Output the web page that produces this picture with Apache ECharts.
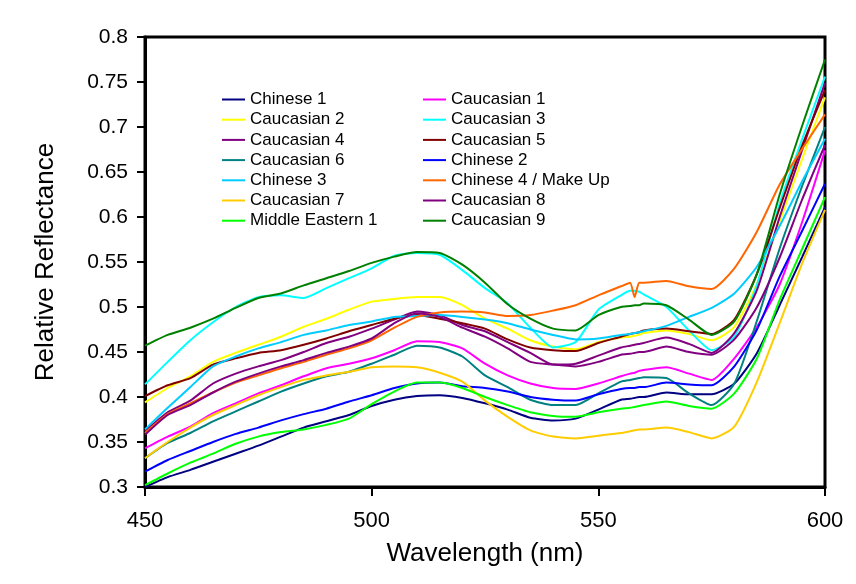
<!DOCTYPE html>
<html>
<head>
<meta charset="utf-8">
<script src="https://cdn.jsdelivr.net/npm/echarts@6/dist/echarts.min.js"></script>
<style>
  html, body { margin: 0; padding: 0; background: #fff; }
  #chart { width: 856px; height: 584px; }
</style>
</head>
<body>
<div id="chart"></div>
<script>
// wavelengths (nm)
const wavelengths = [450, 455, 460, 465, 470, 475, 480, 485, 490, 495, 500, 505, 510, 515, 520, 525, 530, 535, 540, 545, 550, 555, 557, 558, 559, 560, 565, 570, 575, 580, 585, 590, 595, 600];

const chinese1 = [0.300, 0.311, 0.319, 0.328, 0.337, 0.346, 0.356, 0.366, 0.373, 0.380, 0.390, 0.397, 0.401, 0.402, 0.399, 0.393, 0.386, 0.377, 0.374, 0.376, 0.386, 0.397, 0.398, 0.399, 0.400, 0.400, 0.405, 0.403, 0.403, 0.415, 0.449, 0.502, 0.556, 0.611];
const caucasian1 = [0.343, 0.356, 0.367, 0.382, 0.393, 0.404, 0.413, 0.423, 0.432, 0.437, 0.443, 0.452, 0.462, 0.461, 0.454, 0.437, 0.424, 0.415, 0.410, 0.409, 0.415, 0.423, 0.426, 0.427, 0.429, 0.430, 0.433, 0.426, 0.419, 0.443, 0.478, 0.525, 0.595, 0.674];
const caucasian2 = [0.394, 0.410, 0.423, 0.439, 0.449, 0.458, 0.467, 0.478, 0.487, 0.497, 0.506, 0.509, 0.511, 0.511, 0.502, 0.487, 0.476, 0.463, 0.456, 0.453, 0.461, 0.466, 0.467, 0.468, 0.469, 0.471, 0.474, 0.470, 0.463, 0.478, 0.526, 0.595, 0.665, 0.733];
const caucasian3 = [0.414, 0.439, 0.463, 0.483, 0.500, 0.511, 0.513, 0.510, 0.521, 0.532, 0.543, 0.557, 0.560, 0.558, 0.541, 0.521, 0.504, 0.477, 0.455, 0.461, 0.497, 0.513, 0.518, 0.518, 0.517, 0.514, 0.500, 0.474, 0.452, 0.467, 0.525, 0.615, 0.687, 0.756];
const caucasian4 = [0.362, 0.383, 0.396, 0.415, 0.426, 0.434, 0.441, 0.450, 0.460, 0.467, 0.476, 0.486, 0.495, 0.491, 0.480, 0.473, 0.461, 0.449, 0.436, 0.437, 0.446, 0.455, 0.457, 0.458, 0.459, 0.460, 0.466, 0.459, 0.449, 0.471, 0.519, 0.600, 0.675, 0.749];
const caucasian5 = [0.401, 0.413, 0.421, 0.436, 0.443, 0.449, 0.452, 0.458, 0.465, 0.473, 0.480, 0.487, 0.491, 0.487, 0.482, 0.476, 0.464, 0.455, 0.452, 0.451, 0.460, 0.467, 0.470, 0.471, 0.472, 0.474, 0.476, 0.473, 0.470, 0.486, 0.537, 0.610, 0.680, 0.741];
const caucasian6 = [0.332, 0.349, 0.360, 0.373, 0.384, 0.395, 0.406, 0.415, 0.423, 0.428, 0.437, 0.447, 0.457, 0.455, 0.445, 0.424, 0.411, 0.397, 0.391, 0.391, 0.404, 0.417, 0.419, 0.420, 0.421, 0.422, 0.421, 0.404, 0.391, 0.415, 0.485, 0.565, 0.635, 0.700];
const chinese2 = [0.317, 0.330, 0.340, 0.350, 0.359, 0.366, 0.374, 0.381, 0.387, 0.395, 0.402, 0.410, 0.415, 0.416, 0.412, 0.410, 0.406, 0.400, 0.397, 0.396, 0.403, 0.409, 0.410, 0.410, 0.411, 0.411, 0.416, 0.414, 0.413, 0.434, 0.475, 0.534, 0.585, 0.637];
const chinese3 = [0.364, 0.388, 0.411, 0.434, 0.445, 0.454, 0.461, 0.469, 0.474, 0.480, 0.484, 0.489, 0.490, 0.491, 0.489, 0.486, 0.482, 0.475, 0.469, 0.464, 0.465, 0.469, 0.470, 0.471, 0.472, 0.473, 0.479, 0.489, 0.499, 0.515, 0.545, 0.590, 0.640, 0.687];
const chinese4 = [0.360, 0.381, 0.393, 0.405, 0.416, 0.424, 0.432, 0.439, 0.447, 0.454, 0.463, 0.477, 0.489, 0.494, 0.495, 0.494, 0.490, 0.491, 0.496, 0.502, 0.513, 0.523, 0.527, 0.511, 0.527, 0.527, 0.529, 0.523, 0.520, 0.543, 0.584, 0.636, 0.676, 0.714];
const caucasian7 = [0.332, 0.350, 0.366, 0.380, 0.391, 0.402, 0.411, 0.419, 0.424, 0.428, 0.433, 0.434, 0.433, 0.427, 0.417, 0.396, 0.378, 0.363, 0.356, 0.354, 0.357, 0.360, 0.362, 0.363, 0.364, 0.364, 0.366, 0.361, 0.354, 0.367, 0.417, 0.482, 0.549, 0.608];
const caucasian8 = [0.358, 0.380, 0.391, 0.405, 0.417, 0.426, 0.434, 0.441, 0.449, 0.456, 0.465, 0.482, 0.493, 0.489, 0.477, 0.467, 0.454, 0.439, 0.436, 0.434, 0.439, 0.447, 0.448, 0.449, 0.450, 0.450, 0.456, 0.450, 0.447, 0.464, 0.500, 0.555, 0.620, 0.680];
const middleEastern1 = [0.302, 0.315, 0.327, 0.337, 0.348, 0.356, 0.361, 0.364, 0.369, 0.376, 0.392, 0.406, 0.416, 0.416, 0.410, 0.400, 0.391, 0.383, 0.379, 0.378, 0.383, 0.387, 0.388, 0.389, 0.390, 0.391, 0.395, 0.390, 0.387, 0.404, 0.443, 0.508, 0.565, 0.622];
const caucasian9 = [0.457, 0.469, 0.477, 0.487, 0.499, 0.510, 0.515, 0.524, 0.532, 0.540, 0.549, 0.556, 0.561, 0.560, 0.547, 0.527, 0.503, 0.487, 0.476, 0.474, 0.491, 0.500, 0.501, 0.502, 0.502, 0.504, 0.502, 0.486, 0.469, 0.484, 0.537, 0.625, 0.702, 0.775];

const names = ['Chinese 1', 'Caucasian 1', 'Caucasian 2', 'Caucasian 3', 'Caucasian 4', 'Caucasian 5', 'Caucasian 6', 'Chinese 2', 'Chinese 3', 'Chinese 4 / Make Up', 'Caucasian 7', 'Caucasian 8', 'Middle Eastern 1', 'Caucasian 9'];
const values = [chinese1, caucasian1, caucasian2, caucasian3, caucasian4, caucasian5, caucasian6, chinese2, chinese3, chinese4, caucasian7, caucasian8, middleEastern1, caucasian9];
const colors = ['#000080', '#FF00FF', '#FFFF00', '#00FFFF', '#800080', '#800000', '#008080', '#0000FF', '#00CCFF', '#FF6600', '#FFCC00', '#800080', '#00FF00', '#008000'];

const fontFamily = 'Liberation Sans, Arial, sans-serif';

const myChart = echarts.init(document.getElementById('chart'));

const series = names.map((name, i) => ({
  name: name,
  type: 'line',
  symbol: 'none',
  smooth: 0.2,
  lineStyle: { width: 2, color: colors[i] },
  itemStyle: { color: colors[i] },
  data: wavelengths.map((w, j) => [w, values[i][j]])
}));

// legend reads row by row, two columns
const leftCol = names.filter((n, i) => i % 2 === 0);
const rightCol = names.filter((n, i) => i % 2 === 1);

const legendBase = {
  orient: 'vertical',
  top: 86,
  icon: 'rect',
  itemWidth: 23,
  itemHeight: 2,
  itemGap: 3.2,
  textStyle: { color: '#000', fontSize: 17, fontFamily: fontFamily }
};

const option = {
  animation: false,
  backgroundColor: '#fff',
  grid: {
    left: 145, top: 37, right: 31, bottom: 97,
    show: true, borderColor: '#000', borderWidth: 3,
    backgroundColor: 'transparent'
  },
  legend: [
    Object.assign({}, legendBase, { left: 217, data: leftCol }),
    Object.assign({}, legendBase, { left: 418, data: rightCol })
  ],
  xAxis: {
    type: 'value',
    min: 450, max: 600, interval: 50,
    name: 'Wavelength (nm)',
    nameLocation: 'middle',
    nameGap: 54,
    nameTextStyle: { color: '#000', fontSize: 26, fontFamily: fontFamily },
    axisLine: { lineStyle: { color: '#000', width: 3 } },
    axisTick: { show: true, inside: false, length: 9, lineStyle: { color: '#000', width: 2 } },
    axisLabel: { color: '#000', fontSize: 22, fontFamily: fontFamily, margin: 23 },
    splitLine: { show: false }
  },
  yAxis: {
    type: 'value',
    min: 0.3, max: 0.8, interval: 0.05,
    name: 'Relative Reflectance',
    nameLocation: 'middle',
    nameGap: 86,
    nameRotate: 90,
    nameTextStyle: { color: '#000', fontSize: 26, fontFamily: fontFamily },
    axisLine: { lineStyle: { color: '#000', width: 3 } },
    axisTick: { show: true, inside: false, length: 8, lineStyle: { color: '#000', width: 2 } },
    axisLabel: { color: '#000', fontSize: 21, fontFamily: fontFamily, margin: 17 },
    splitLine: { show: false }
  },
  series: series
};

myChart.setOption(option);
</script>
</body>
</html>
